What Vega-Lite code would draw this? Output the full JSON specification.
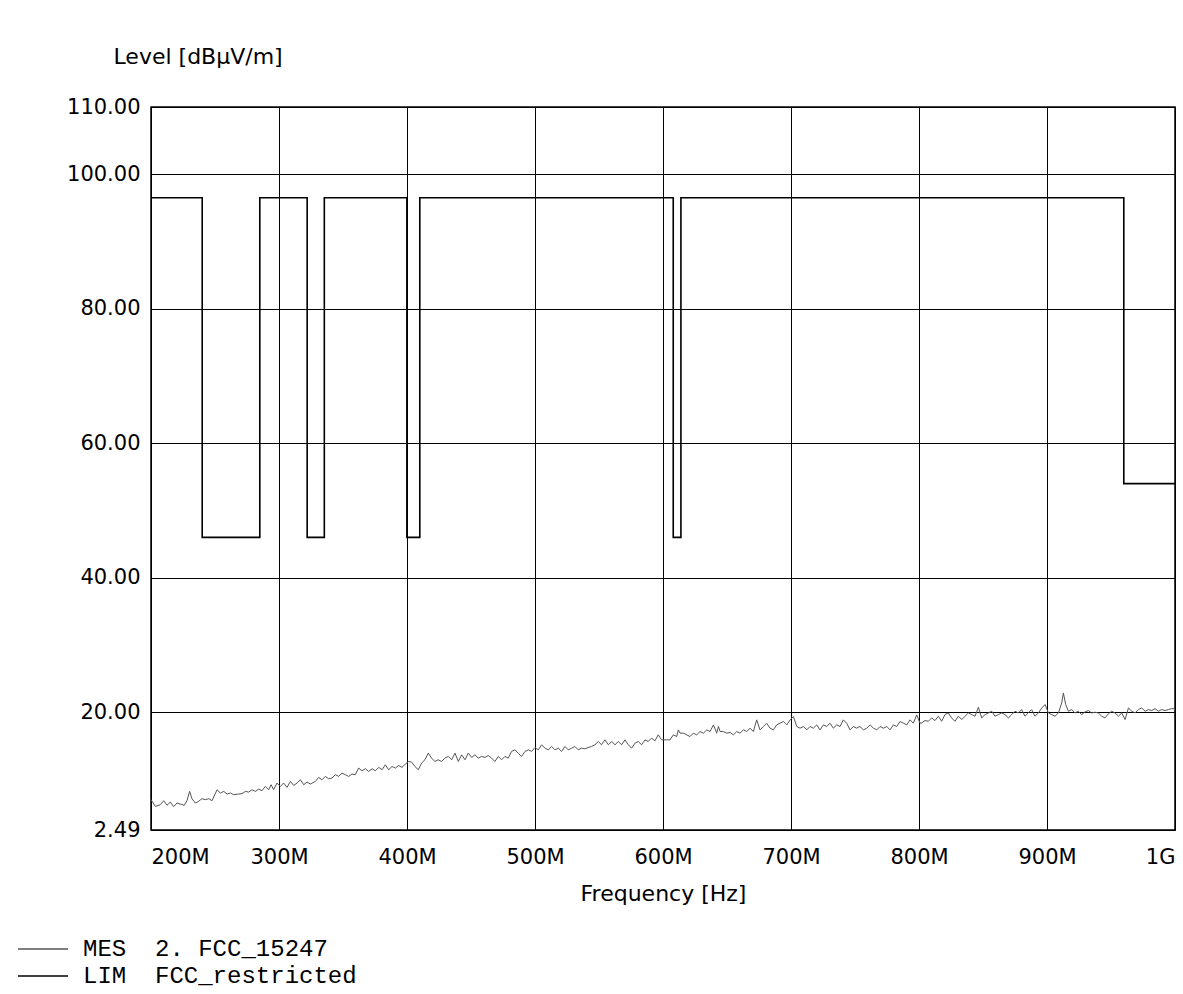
{
  "$schema": "https://vega.github.io/schema/vega-lite/v6.json",
  "width": 1024,
  "height": 723,
  "autosize": {"type": "none"},
  "padding": {"left": 151, "top": 107, "right": 8, "bottom": 164},
  "background": "white",
  "config": {
    "view": {"stroke": "#000000", "strokeWidth": 1.5},
    "font": "DejaVu Sans",
    "axis": {
      "domain": false,
      "ticks": false,
      "grid": true,
      "gridColor": "#000000",
      "gridWidth": 1,
      "gridOpacity": 1,
      "labelFont": "DejaVu Sans",
      "labelFontSize": 21,
      "labelColor": "#000000",
      "titleFont": "DejaVu Sans",
      "titleFontSize": 22,
      "titleFontWeight": "normal",
      "titleColor": "#000000"
    }
  },
  "datasets": {
    "mes": [
      {"f":200.0,"v":7.0},{"f":203.4,"v":6.0},{"f":207.3,"v":6.25},{"f":209.9,"v":6.85},{"f":212.5,"v":6.16},{"f":215.1,"v":6.65},{"f":217.7,"v":5.96},{"f":220.3,"v":6.5},{"f":222.9,"v":6.35},{"f":226.0,"v":6.16},{"f":228.1,"v":6.85},{"f":230.2,"v":8.23},{"f":232.0,"v":7.15},{"f":234.6,"v":6.5},{"f":237.2,"v":6.75},{"f":239.8,"v":7.15},{"f":242.4,"v":7.0},{"f":245.1,"v":7.15},{"f":247.7,"v":6.85},{"f":251.6,"v":8.48},{"f":254.2,"v":7.99},{"f":256.8,"v":8.23},{"f":259.4,"v":7.84},{"f":262.0,"v":7.99},{"f":264.6,"v":7.74},{"f":268.5,"v":7.84},{"f":271.1,"v":7.89},{"f":273.7,"v":8.23},{"f":276.3,"v":8.13},{"f":278.9,"v":8.48},{"f":281.5,"v":8.23},{"f":284.1,"v":8.58},{"f":286.7,"v":8.33},{"f":289.3,"v":8.97},{"f":291.9,"v":8.48},{"f":293.8,"v":9.22},{"f":295.8,"v":8.48},{"f":298.4,"v":9.47},{"f":301.0,"v":8.97},{"f":303.6,"v":9.47},{"f":306.3,"v":8.83},{"f":308.9,"v":9.72},{"f":311.5,"v":9.12},{"f":314.1,"v":9.47},{"f":316.7,"v":9.96},{"f":319.3,"v":9.22},{"f":321.9,"v":9.62},{"f":324.5,"v":9.32},{"f":328.4,"v":9.72},{"f":331.0,"v":10.31},{"f":333.6,"v":9.96},{"f":336.2,"v":10.46},{"f":338.8,"v":10.11},{"f":341.4,"v":10.21},{"f":344.0,"v":10.71},{"f":346.6,"v":10.46},{"f":349.2,"v":10.95},{"f":351.8,"v":10.71},{"f":354.4,"v":10.46},{"f":357.0,"v":10.81},{"f":359.6,"v":10.71},{"f":362.2,"v":11.7},{"f":364.8,"v":11.3},{"f":367.4,"v":11.6},{"f":370.1,"v":11.2},{"f":372.7,"v":11.6},{"f":375.3,"v":11.3},{"f":377.9,"v":11.8},{"f":380.5,"v":11.45},{"f":383.1,"v":12.19},{"f":385.7,"v":11.45},{"f":388.3,"v":11.94},{"f":390.9,"v":11.7},{"f":393.5,"v":12.09},{"f":396.1,"v":11.8},{"f":398.7,"v":12.29},{"f":401.3,"v":12.68},
      {"f":403.6,"v":12.58},{"f":406.2,"v":11.94},{"f":408.8,"v":11.45},{"f":411.4,"v":12.44},{"f":414.0,"v":12.93},{"f":416.6,"v":13.92},{"f":419.2,"v":13.18},{"f":421.8,"v":12.68},{"f":424.4,"v":12.93},{"f":427.0,"v":12.68},{"f":429.6,"v":13.18},{"f":432.3,"v":13.43},{"f":434.9,"v":12.93},{"f":437.5,"v":13.92},{"f":440.1,"v":12.68},{"f":442.7,"v":13.67},{"f":445.3,"v":12.93},{"f":447.9,"v":13.92},{"f":450.5,"v":13.28},{"f":453.1,"v":13.67},{"f":455.7,"v":13.18},{"f":458.3,"v":13.43},{"f":460.9,"v":13.28},{"f":463.5,"v":13.57},{"f":466.1,"v":13.18},{"f":468.7,"v":12.68},{"f":471.3,"v":13.43},{"f":473.9,"v":12.93},{"f":476.5,"v":13.43},{"f":479.1,"v":13.18},{"f":481.7,"v":14.17},{"f":484.3,"v":14.41},{"f":486.9,"v":13.92},{"f":489.5,"v":13.43},{"f":492.2,"v":14.17},{"f":494.8,"v":14.41},{"f":497.4,"v":14.17},{"f":500.0,"v":14.76},{"f":502.6,"v":14.41},{"f":505.2,"v":15.16},{"f":507.8,"v":14.66},{"f":510.4,"v":14.41},{"f":513.0,"v":14.91},{"f":515.6,"v":14.41},{"f":518.2,"v":14.66},{"f":520.8,"v":14.17},{"f":523.4,"v":14.91},{"f":526.0,"v":14.41},{"f":528.6,"v":14.66},{"f":531.2,"v":14.91},{"f":533.8,"v":14.41},{"f":536.4,"v":14.66},{"f":539.0,"v":14.56},{"f":541.6,"v":14.76},{"f":544.2,"v":14.91},{"f":546.8,"v":15.16},{"f":549.4,"v":15.65},{"f":552.0,"v":15.16},{"f":554.6,"v":15.9},{"f":557.3,"v":15.16},{"f":559.9,"v":15.65},{"f":562.5,"v":15.16},{"f":565.1,"v":15.65},{"f":567.7,"v":15.16},{"f":570.3,"v":15.9},{"f":572.9,"v":15.16},{"f":575.5,"v":14.66},{"f":578.1,"v":15.4},{"f":580.7,"v":15.65},{"f":583.3,"v":15.16},{"f":585.9,"v":15.9},{"f":588.5,"v":15.65},{"f":591.1,"v":16.15},{"f":593.7,"v":15.75},{"f":596.3,"v":16.64},{"f":598.9,"v":15.9},{"f":601.5,"v":15.9},
      {"f":602.9,"v":15.9},{"f":605.5,"v":15.9},{"f":608.1,"v":16.64},{"f":610.7,"v":16.39},{"f":612.0,"v":17.38},{"f":613.3,"v":16.89},{"f":615.9,"v":16.89},{"f":618.5,"v":16.64},{"f":621.1,"v":16.39},{"f":623.7,"v":16.89},{"f":626.3,"v":16.64},{"f":628.9,"v":17.13},{"f":631.6,"v":16.89},{"f":634.2,"v":17.38},{"f":636.8,"v":17.13},{"f":639.4,"v":18.12},{"f":642.0,"v":16.89},{"f":643.3,"v":17.88},{"f":644.6,"v":17.13},{"f":647.2,"v":17.13},{"f":649.8,"v":16.89},{"f":652.4,"v":16.99},{"f":655.0,"v":16.64},{"f":657.6,"v":17.13},{"f":660.2,"v":16.89},{"f":662.8,"v":17.38},{"f":665.4,"v":17.13},{"f":668.0,"v":17.63},{"f":670.6,"v":17.13},{"f":673.2,"v":18.87},{"f":675.8,"v":17.38},{"f":678.4,"v":17.88},{"f":681.0,"v":18.37},{"f":683.6,"v":17.63},{"f":686.2,"v":17.38},{"f":688.8,"v":18.12},{"f":691.4,"v":18.37},{"f":694.1,"v":18.62},{"f":696.7,"v":18.12},{"f":699.3,"v":18.87},{"f":701.9,"v":19.36},{"f":704.5,"v":17.88},{"f":707.1,"v":17.63},{"f":709.7,"v":17.88},{"f":712.3,"v":17.38},{"f":714.9,"v":17.88},{"f":717.5,"v":17.63},{"f":720.1,"v":18.12},{"f":722.7,"v":17.38},{"f":725.3,"v":18.12},{"f":727.9,"v":17.88},{"f":730.5,"v":18.37},{"f":733.1,"v":17.63},{"f":735.7,"v":18.12},{"f":738.3,"v":17.88},{"f":740.9,"v":18.87},{"f":743.5,"v":18.37},{"f":746.1,"v":17.38},{"f":748.7,"v":17.88},{"f":751.3,"v":17.63},{"f":753.9,"v":17.88},{"f":756.6,"v":17.38},{"f":759.2,"v":17.63},{"f":761.8,"v":18.12},{"f":764.4,"v":17.63},{"f":767.0,"v":17.38},{"f":769.6,"v":17.88},{"f":772.2,"v":17.63},{"f":774.8,"v":17.88},{"f":777.4,"v":17.38},{"f":780.0,"v":18.12},{"f":782.6,"v":17.88},{"f":785.2,"v":18.62},{"f":787.8,"v":18.37},{"f":790.4,"v":18.12},{"f":793.0,"v":18.87},{"f":795.6,"v":18.37},{"f":798.2,"v":19.61},{"f":800.8,"v":18.37},
      {"f":802.1,"v":18.42},{"f":804.7,"v":18.76},{"f":807.3,"v":18.66},{"f":809.9,"v":19.16},{"f":812.5,"v":18.76},{"f":815.1,"v":19.41},{"f":817.7,"v":18.66},{"f":820.3,"v":19.65},{"f":822.9,"v":19.9},{"f":825.5,"v":19.16},{"f":828.1,"v":18.66},{"f":830.8,"v":19.41},{"f":833.4,"v":18.91},{"f":836.0,"v":19.41},{"f":838.6,"v":19.9},{"f":841.2,"v":19.65},{"f":843.8,"v":19.41},{"f":846.4,"v":20.74},{"f":849.0,"v":19.16},{"f":851.6,"v":19.65},{"f":854.2,"v":19.9},{"f":856.8,"v":20.15},{"f":859.4,"v":19.41},{"f":862.0,"v":19.65},{"f":864.6,"v":19.9},{"f":867.2,"v":19.65},{"f":869.8,"v":19.16},{"f":872.4,"v":19.65},{"f":875.0,"v":20.15},{"f":877.6,"v":19.9},{"f":880.2,"v":20.4},{"f":882.8,"v":19.41},{"f":885.4,"v":19.9},{"f":888.0,"v":20.4},{"f":890.6,"v":19.41},{"f":893.3,"v":19.9},{"f":895.9,"v":20.64},{"f":898.5,"v":21.14},{"f":901.1,"v":19.9},{"f":903.7,"v":19.65},{"f":906.3,"v":19.41},{"f":908.9,"v":19.9},{"f":911.5,"v":21.38},{"f":912.8,"v":22.87},{"f":914.6,"v":21.14},{"f":916.7,"v":20.15},{"f":919.3,"v":20.4},{"f":921.9,"v":19.9},{"f":924.5,"v":20.15},{"f":927.1,"v":19.65},{"f":929.7,"v":20.05},{"f":932.3,"v":20.25},{"f":934.9,"v":19.9},{"f":937.5,"v":20.0},{"f":940.1,"v":19.9},{"f":942.7,"v":19.41},{"f":945.3,"v":19.16},{"f":947.9,"v":19.75},{"f":950.5,"v":20.15},{"f":953.1,"v":19.9},{"f":955.8,"v":19.41},{"f":958.4,"v":19.9},{"f":961.0,"v":18.91},{"f":963.6,"v":20.64},{"f":966.2,"v":20.15},{"f":968.8,"v":19.9},{"f":971.4,"v":20.4},{"f":974.0,"v":20.64},{"f":976.6,"v":20.15},{"f":979.2,"v":20.4},{"f":981.8,"v":20.25},{"f":984.4,"v":20.54},{"f":987.0,"v":20.15},{"f":989.6,"v":20.4},{"f":992.2,"v":20.25},{"f":994.8,"v":20.4},{"f":997.4,"v":20.54},{"f":1000.0,"v":20.5}
    ],
    "lim": [
      {"f":200,"v":96.5},{"f":240,"v":46},{"f":285,"v":96.5},{"f":322,"v":46},{"f":335.4,"v":96.5},{"f":399.9,"v":46},{"f":410,"v":96.5},{"f":608,"v":46},{"f":614,"v":96.5},{"f":960,"v":54},{"f":1000,"v":54}
    ]
  },
  "encoding": {
    "x": {
      "field": "f",
      "type": "quantitative",
      "scale": {"domain": [200, 1000], "nice": false, "zero": false},
      "axis": {
        "title": "Frequency [Hz]",
        "values": [200, 300, 400, 500, 600, 700, 800, 900, 1000],
        "labelExpr": "datum.value >= 1000 ? '1G' : datum.value + 'M'",
        "labelFlush": true,
        "labelPadding": 16,
        "titleY": 70,
        "titleBaseline": "alphabetic"
      }
    },
    "y": {
      "field": "v",
      "type": "quantitative",
      "scale": {"domain": [2.49, 110], "nice": false, "zero": false},
      "axis": {
        "title": "Level [dBµV/m]",
        "values": [2.49, 20, 40, 60, 80, 100, 110],
        "format": ".2f",
        "labelPadding": 11,
        "titleAngle": 0,
        "titleAlign": "left",
        "titleBaseline": "alphabetic",
        "titleX": -38,
        "titleY": -44
      }
    }
  },
  "layer": [
    {
      "data": {"name": "mes"},
      "mark": {"type": "line", "strokeWidth": 1, "interpolate": "linear"},
      "encoding": {
        "color": {
          "datum": "MES",
          "type": "nominal",
          "scale": {"domain": ["MES", "LIM"], "range": ["#555555", "#000000"]},
          "legend": {
            "title": null,
            "orient": "none",
            "legendX": -140,
            "legendY": 830,
            "direction": "vertical",
            "symbolType": "M-1,0H9",
            "symbolSize": 100,
            "symbolStrokeWidth": 1.5,
            "rowPadding": 3,
            "padding": 0,
            "labelOffset": 48,
            "labelFont": "Liberation Mono",
            "labelFontSize": 24,
            "labelColor": "#000000",
            "labelLimit": 0,
            "labelExpr": "datum.label == 'MES' ? 'MES\u00a0\u00a02.\u00a0FCC_15247' : 'LIM\u00a0\u00a0FCC_restricted'"
          }
        }
      }
    },
    {
      "data": {"name": "lim"},
      "mark": {"type": "line", "strokeWidth": 1.6, "interpolate": "step-after"},
      "encoding": {
        "color": {"datum": "LIM", "type": "nominal"}
      }
    }
  ]
}
